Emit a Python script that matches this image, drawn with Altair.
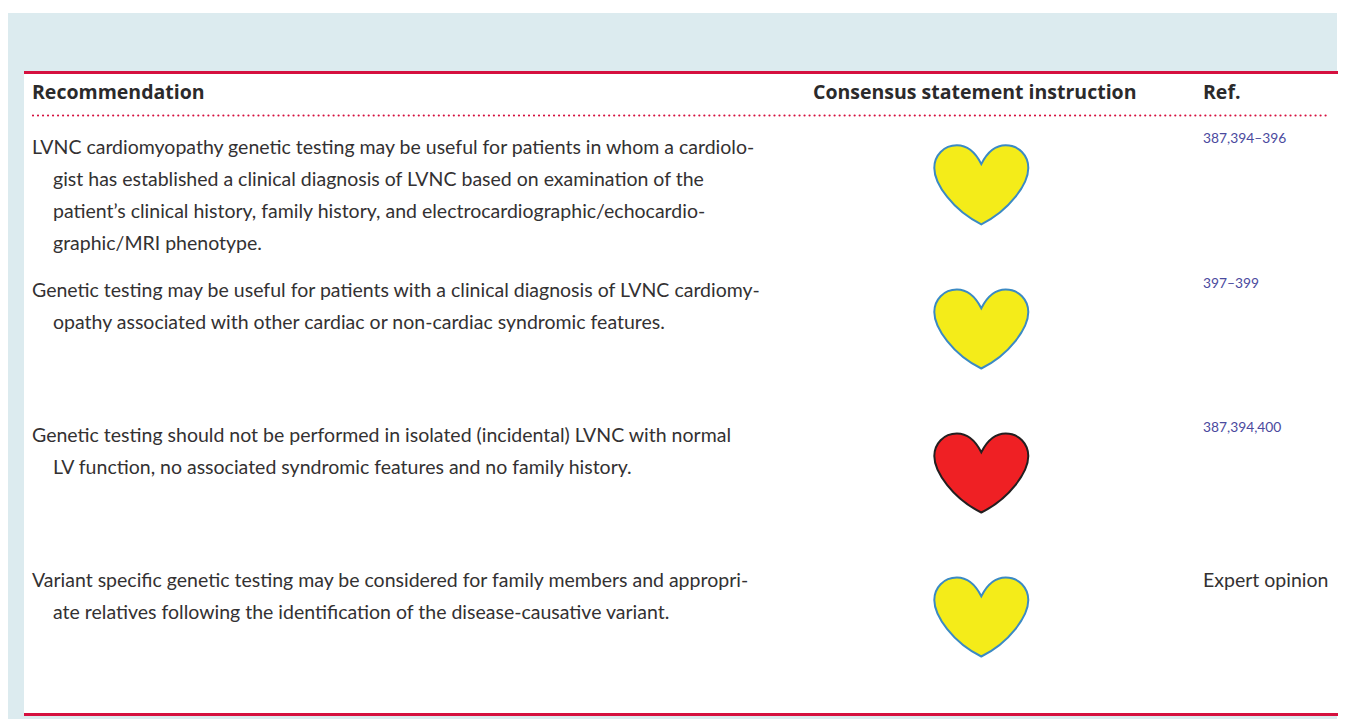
import altair as alt
import pandas as pd

PANEL = "#dcebef"
CRIMSON = "#d5103f"
INK = "#2b2a2b"

# text content
header_text = ["Recommendation", "Consensus statement instruction", "Ref."]
header_left = [32, 813, 1203]
header_base = [98.5, 98.5, 98.5]

body_text = [
    "LVNC cardiomyopathy genetic testing may be useful for patients in whom a cardiolo-",
    "gist has established a clinical diagnosis of LVNC based on examination of the",
    "patient\u2019s clinical history, family history, and electrocardiographic/echocardio-",
    "graphic/MRI phenotype.",
    "Genetic testing may be useful for patients with a clinical diagnosis of LVNC cardiomy-",
    "opathy associated with other cardiac or non-cardiac syndromic features.",
    "Genetic testing should not be performed in isolated (incidental) LVNC with normal",
    "LV function, no associated syndromic features and no family history.",
    "Variant specific genetic testing may be considered for family members and appropri-",
    "ate relatives following the identification of the disease-causative variant.",
    "Expert opinion",
]
body_left = [32, 53, 53, 53, 32, 53, 32, 53, 32, 53, 1203]
body_base = [153.5, 185.5, 217.5, 249.5, 296.5, 328.5, 441.5, 473.5, 586.5, 618.5, 586.5]

ref_text = ["387,394\u2013396", "397\u2013399", "387,394,400"]
ref_left = [1203, 1203, 1203]
ref_base = [143, 288, 432]

# hearts
heart_x = [981.3, 981.3, 981.3, 981.3]
heart_y = [184.8, 329, 473, 617]
heart_kind = ["may", "may", "not", "may"]

W, H = 1336, 711
X = alt.X("x:Q", axis=None, scale=alt.Scale(domain=[8, 8 + W], range=[0, W]))
Y = alt.Y("y:Q", axis=None, scale=alt.Scale(domain=[8, 8 + H], range=[0, H]))
X2 = alt.X2("x2:Q")
Y2 = alt.Y2("y2:Q")

panel = (
    alt.Chart(pd.DataFrame({"x": [8], "x2": [1337], "y": [13], "y2": [719]}))
    .mark_rect(color=PANEL)
    .encode(x=X, x2=X2, y=Y, y2=Y2)
)
sheet = (
    alt.Chart(pd.DataFrame({"x": [24], "x2": [1337], "y": [73], "y2": [714]}))
    .mark_rect(color="white")
    .encode(x=X, x2=X2, y=Y, y2=Y2)
)
solid = (
    alt.Chart(pd.DataFrame({"x": [24, 24], "x2": [1338, 1338], "y": [72.5, 714.5]}))
    .mark_rule(color=CRIMSON, strokeWidth=3)
    .encode(x=X, x2=X2, y=Y)
)
dotted = (
    alt.Chart(pd.DataFrame({"x": [33], "x2": [1328], "y": [115.5]}))
    .mark_rule(color=CRIMSON, strokeWidth=2.2, strokeDash=[0.01, 5], strokeCap="round")
    .encode(x=X, x2=X2, y=Y)
)

headers = (
    alt.Chart(pd.DataFrame({"t": header_text, "x": header_left, "y": header_base}))
    .mark_text(align="left", baseline="alphabetic", font="Open Sans", fontWeight=700, fontSize=19.5, color=INK)
    .encode(x=X, y=Y, text="t:N")
)
body = (
    alt.Chart(pd.DataFrame({"t": body_text, "x": body_left, "y": body_base}))
    .mark_text(align="left", baseline="alphabetic", font="Lato", fontSize=19.5, color="#333132")
    .encode(x=X, y=Y, text="t:N")
)
refs = (
    alt.Chart(pd.DataFrame({"t": ref_text, "x": ref_left, "y": ref_base}))
    .mark_text(align="left", baseline="alphabetic", font="Lato", fontSize=13.8, color="#4a4a9e")
    .encode(x=X, y=Y, text="t:N")
)

HEART = (
    "M0,-0.44 C-0.12,-0.68 -0.30,-0.84 -0.52,-0.84 C-0.80,-0.84 -1,-0.62 -1,-0.36 "
    "C-1,-0.02 -0.6,0.55 0,0.84 C0.6,0.55 1,-0.02 1,-0.36 "
    "C1,-0.62 0.80,-0.84 0.52,-0.84 C0.30,-0.84 0.12,-0.68 0,-0.44 Z"
)
hearts = (
    alt.Chart(pd.DataFrame({"x": heart_x, "y": heart_y, "k": heart_kind}))
    .mark_point(shape=HEART, size=8836, filled=True, opacity=1, strokeWidth=2)
    .encode(
        x=X,
        y=Y,
        fill=alt.Fill("k:N", legend=None, scale=alt.Scale(domain=["may", "not"], range=["#f4ec19", "#ef2024"])),
        stroke=alt.Stroke("k:N", legend=None, scale=alt.Scale(domain=["may", "not"], range=["#3b8ac4", "#231f20"])),
    )
)

chart = (
    alt.layer(panel, sheet, solid, dotted, headers, body, refs, hearts)
    .properties(width=W, height=H, padding=0, autosize=alt.AutoSizeParams(type="none"))
    .configure_view(stroke=None)
)
chart.save("out.html", embed_options={"renderer": "svg", "actions": False})
